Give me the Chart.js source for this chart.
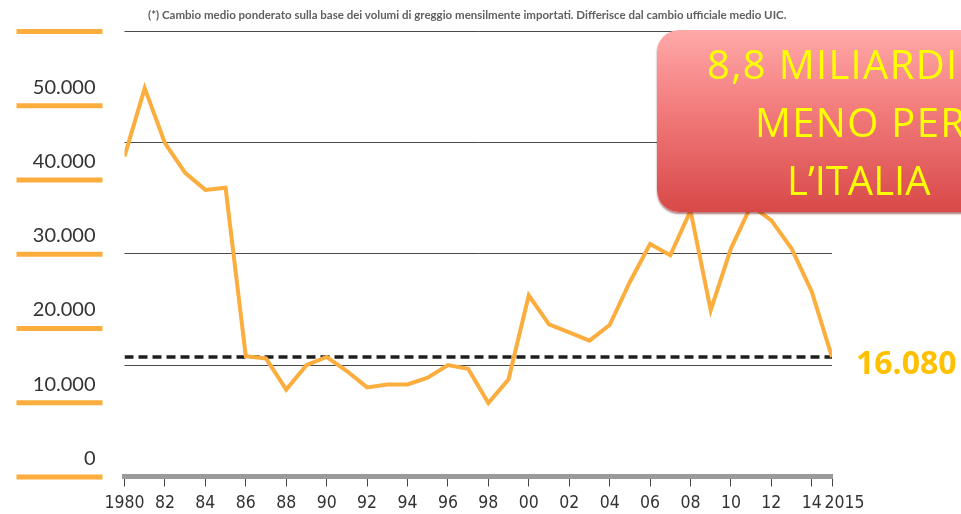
<!DOCTYPE html>
<html>
<head>
<meta charset="utf-8">
<script src="https://cdn.jsdelivr.net/npm/chart.js@4"></script>
<style>
  html, body { margin: 0; padding: 0; background: #fff; overflow: hidden; }
  #wrap { position: relative; width: 961px; height: 514px; overflow: hidden; }
  #note {
    position: absolute; left: 148px; top: 8px; white-space: nowrap;
    font: bold 11.5px Lato, sans-serif; color: #606060;
  }
  #box {
    position: absolute; left: 657px; top: 30px; width: 404px; height: 182px;
    border-radius: 22px;
    background: linear-gradient(to bottom, #ffa9a9 0%, #f47f7f 40%, #d84848 100%);
    box-shadow: 0 2px 2px rgba(110, 20, 20, 0.55);
    color: #ffff00;
    font: 40px "Open Sans", sans-serif; line-height: 58px;
  }
  #box span { position: absolute; white-space: nowrap; }
  #final {
    position: absolute; left: 856px; top: 346px;
    font: bold 32px "Open Sans", sans-serif; line-height: 32px; color: #ffc000;
  }
</style>
</head>
<body>
<div id="wrap">
  <canvas id="chart" width="961" height="514"></canvas>
  <div id="note">(*) Cambio medio ponderato sulla base dei volumi di greggio mensilmente importati. Differisce dal cambio ufficiale medio UIC.</div>
  <div id="box">
    <span style="left:50px; top:5px; letter-spacing:1.3px">8,8 MILIARDI</span>
    <span style="left:98px; top:63px; letter-spacing:1.3px">MENO PER</span>
    <span style="left:130px; top:121px">L’ITALIA</span>
  </div>
  <div id="final">16.080</div>
</div>
<script>
// ── Data ───────────────────────────────────────────────────
const years = [1980, 1981, 1982, 1983, 1984, 1985, 1986, 1987, 1988, 1989,
               1990, 1991, 1992, 1993, 1994, 1995, 1996, 1997, 1998, 1999,
               2000, 2001, 2002, 2003, 2004, 2005, 2006, 2007, 2008, 2009,
               2010, 2011, 2012, 2013, 2014, 2015];
const bill = [43100, 52300, 44900, 40900, 38600, 38900, 16200, 15900, 11700, 15000,
              16100, 14200, 12000, 12400, 12400, 13300, 15000, 14500, 9900, 13100,
              24400, 20500, 19400, 18300, 20400, 26200, 31300, 29800, 35800, 22400,
              30700, 36500, 34500, 30700, 24900, 16080];
const refValue = 16080;
const refYears = [1980, 2015];

const tickYears  = [1980, 1982, 1984, 1986, 1988, 1990, 1992, 1994, 1996, 1998,
                    2000, 2002, 2004, 2006, 2008, 2010, 2012, 2014, 2015];
const tickLabels = ['1980', '82', '84', '86', '88', '90', '92', '94', '96', '98',
                    '00', '02', '04', '06', '08', '10', '12', '14', '     2015'];

const yMax = 60000;
const yStep = 10000;   // labelled ticks (orange bars)
const gridStep = 15000; // horizontal rules in the plot

const ORANGE = '#fbad3d';

// orange bars under the y labels
const tickBars = {
  id: 'tickBars',
  afterDraw(chart) {
    const s = chart.scales.y, ctx = chart.ctx, left = chart.chartArea.left;
    ctx.save();
    ctx.fillStyle = ORANGE;
    s.ticks.forEach(t => {
      const y = s.getPixelForValue(t.value);
      ctx.fillRect(left - 108, y - 2, 86, 5);
    });
    ctx.restore();
  }
};

const noPadY = s => { s.paddingTop = 0; s.paddingBottom = 0; };

const ctx = document.getElementById('chart').getContext('2d');
new Chart(ctx, {
  type: 'line',
  data: {
    datasets: [
      {
        label: 'Fattura',
        data: years.map((x, i) => ({ x, y: bill[i] })),
        borderColor: ORANGE,
        borderWidth: 4,
        pointRadius: 0,
        tension: 0,
        order: 0,
      },
      {
        label: 'Riferimento',
        data: refYears.map(x => ({ x, y: refValue })),
        borderColor: '#1e1e1e',
        borderWidth: 3.5,
        borderDash: [9, 5],
        pointRadius: 0,
        order: 1,
      }
    ]
  },
  options: {
    responsive: false,
    animation: false,
    layout: { padding: { left: 0, right: 129, top: 31, bottom: 0 } },
    plugins: { legend: { display: false }, tooltip: { enabled: false } },
    scales: {
      x: {
        type: 'linear', min: 1980, max: 2015,
        afterBuildTicks: s => { s.ticks = tickYears.map(v => ({ value: v })); },
        afterFit: s => { s.height = 37.5; s.paddingLeft = 0; s.paddingRight = 0; },
        ticks: {
          autoSkip: false, maxRotation: 0, padding: 6,
          color: '#333',
          font: { family: '"Liberation Sans Narrow", "DejaVu Sans Condensed", sans-serif', size: 17.5 },
          callback: v => tickLabels[tickYears.indexOf(v)] ?? ''
        },
        grid: { drawOnChartArea: false, drawTicks: true, tickLength: 10, color: '#444', lineWidth: 1 },
        border: { display: true, color: '#9a9a9a', width: 5 }
      },
      y: {
        min: 0, max: yMax,
        afterFit: s => { s.width = 124.5; noPadY(s); },
        ticks: {
          stepSize: yStep, padding: 29, labelOffset: -18,
          color: '#333',
          font: { family: 'Lato, sans-serif', size: 20 },
          callback: v => v === yMax ? '' : (v === 0 ? '0' : v.toLocaleString('it-IT'))
        },
        grid: { drawOnChartArea: false, drawTicks: false },
        border: { display: false }
      },
      yGrid: {
        position: 'right', min: 0, max: yMax,
        afterFit: s => { s.width = 0; noPadY(s); },
        ticks: { display: false, stepSize: gridStep },
        grid: {
          drawTicks: false, lineWidth: 1,
          color: c => c.tick.value === 0 ? 'rgba(0,0,0,0)' : '#4a4a4a'
        },
        border: { display: false }
      }
    }
  },
  plugins: [tickBars]
});
</script>
</body>
</html>
